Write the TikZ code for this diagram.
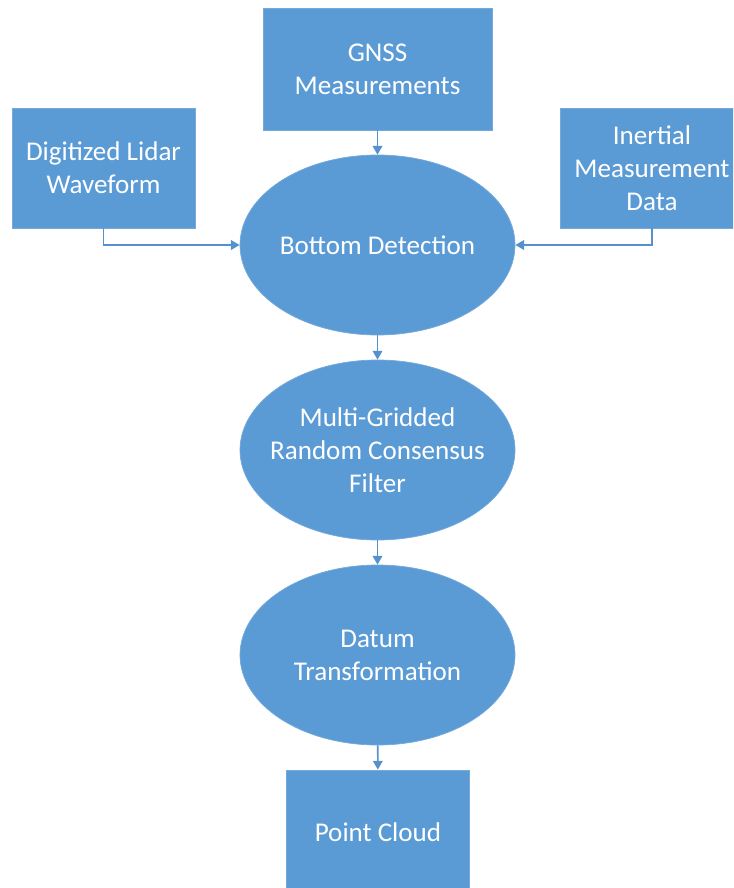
\documentclass[tikz,border=0pt]{standalone}
\usepackage{fontspec}
\setmainfont{Carlito}
\usetikzlibrary{positioning,arrows.meta,shapes.geometric}
\definecolor{flowblue}{HTML}{5B9BD5}
\definecolor{flowline}{HTML}{5591CC}

\begin{document}
\begin{tikzpicture}[
  srcbox/.style={rectangle, fill=flowblue, draw=flowblue!85!white, line width=0.4pt,
               minimum width=3.66cm, minimum height=2.40cm, inner sep=0pt,
               align=center, text=white, font=\fontsize{15.4}{18.8}\selectfont},
  procnode/.style={ellipse, fill=flowblue, draw=flowblue!85!white, line width=0.4pt,
               minimum width=5.50cm, minimum height=3.60cm, inner sep=0pt,
               align=center, text=white, font=\fontsize{15.4}{18.8}\selectfont},
  edge/.style={line width=0.9pt, flowline, -{Triangle[width=5.5pt,length=5pt]}},
]

\useasboundingbox (0,0) rectangle (14.66,-17.76);
\clip (0,0) rectangle (14.66,-17.76);

% input sources
\node[srcbox, minimum width=4.58cm, minimum height=2.44cm] (gnss) at (7.55,-1.38)
  {GNSS\\Measurements};
\node[srcbox] (lidar) at (2.07,-3.36) {Digitized Lidar\\Waveform};
\node[srcbox, minimum width=3.68cm] (imu) at (13.04,-3.36)
  {Inertial\\Measurement\\Data};

% processing chain (wide lines boxed so the ellipse keeps its size)
\node[procnode] (bottom) at (7.55,-4.90) {\makebox[2cm]{Bottom Detection}};
\node[procnode] (mgrc) at (7.55,-9.00)
  {Multi-Gridded\\\makebox[2cm]{Random Consensus}\\Filter};
\node[procnode] (datum) at (7.55,-13.10) {Datum\\\makebox[2cm]{Transformation}};

\node[srcbox, minimum height=2.48cm] (cloud) at (7.56,-16.64) {Point Cloud};

\draw[edge] (gnss) -- (bottom);
\draw[edge] (lidar.south) |- (bottom.west);
\draw[edge] (imu.south) |- (bottom.east);
\draw[edge] (bottom) -- (mgrc);
\draw[edge] (mgrc) -- (datum);
\draw[edge] (datum) -- (cloud);

\end{tikzpicture}
\end{document}
